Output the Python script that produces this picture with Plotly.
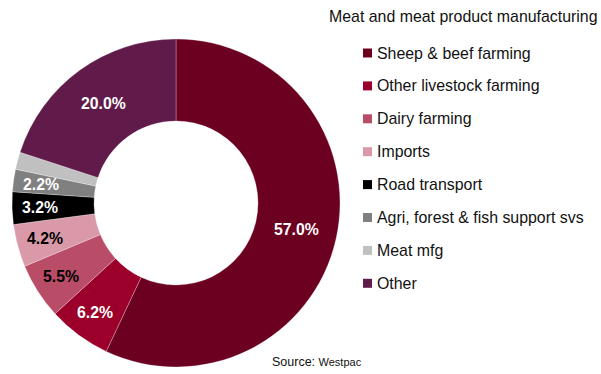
import math
import plotly.graph_objects as go

# Share of inputs to meat and meat product manufacturing (%)
categories = [
    "Sheep & beef farming",
    "Other livestock farming",
    "Dairy farming",
    "Imports",
    "Road transport",
    "Agri, forest & fish support svs",
    "Meat mfg",
    "Other",
]
shares = [57.0, 6.2, 5.5, 4.2, 3.2, 2.2, 1.7, 20.0]
colors = ["#6C0020", "#9C002A", "#B94C66", "#D999A8",
          "#000000", "#808080", "#C0C0C0", "#611B4A"]
label_colors = ["white", "white", "black", "black", "white", "white", "white", "white"]
chart_title = "Meat and meat product manufacturing"
source_name = "Westpac"

W, H = 601, 374
FONT = "Liberation Sans, Arial, sans-serif"

# donut geometry in pixels
cx, cy, R = 176, 203, 164
hole = 0.5

fig = go.Figure()
fig.add_trace(go.Pie(
    labels=categories,
    values=shares,
    sort=False,
    direction="clockwise",
    rotation=0,
    hole=hole,
    marker=dict(colors=colors, line=dict(color="rgba(255,255,255,0.45)", width=0.6)),
    textinfo="none",
    hoverinfo="label+value",
    showlegend=False,
    domain=dict(x=[(cx - R) / W, (cx + R) / W],
                y=[(H - cy - R) / H, (H - cy + R) / H]),
))

annotations = []
shapes = []

# percentage labels placed at each slice's mid-angle
total = sum(shares)
cum = 0.0
for val, col in zip(shares, label_colors):
    mid = (cum + val / 2) / total * 2 * math.pi
    cum += val
    if val < 2:
        continue
    frac = 0.75 if val >= 10 else 0.83
    r = R * frac
    px = cx + r * math.sin(mid)
    py = cy - r * math.cos(mid)
    annotations.append(dict(
        x=px / W, y=(H - py) / H, xref="paper", yref="paper",
        text=f"<b>{val:.1f}%</b>", showarrow=False,
        xanchor="center", yanchor="middle",
        font=dict(family=FONT, size=15.8, color=col),
    ))

# legend title
annotations.append(dict(
    x=327 / W, y=(H - 17) / H, xref="paper", yref="paper",
    text=chart_title, showarrow=False, xanchor="left", yanchor="middle",
    font=dict(family=FONT, size=15.9, color="#111111"),
))

# legend entries
leg_x0, leg_y0, leg_dy, sq = 363, 53, 32.9, 9
for i, (name, col) in enumerate(zip(categories, colors)):
    yc = leg_y0 + i * leg_dy
    shapes.append(dict(
        type="rect", xref="paper", yref="paper",
        x0=leg_x0 / W, x1=(leg_x0 + sq) / W,
        y0=(H - yc - sq / 2) / H, y1=(H - yc + sq / 2) / H,
        fillcolor=col, line=dict(width=0),
    ))
    annotations.append(dict(
        x=(leg_x0 + sq + 3) / W, y=(H - yc) / H, xref="paper", yref="paper",
        text=name, showarrow=False, xanchor="left", yanchor="middle",
        font=dict(family=FONT, size=15.9, color="#111111"),
    ))

# source note
annotations.append(dict(
    x=270 / W, y=(H - 362) / H, xref="paper", yref="paper",
    text=f"Source: <span style='font-size:11px'>{source_name}</span>",
    showarrow=False, xanchor="left", yanchor="middle",
    font=dict(family=FONT, size=12.5, color="#111111"),
))

fig.update_layout(
    width=W, height=H,
    margin=dict(l=0, r=0, t=0, b=0),
    paper_bgcolor="white", plot_bgcolor="white",
    annotations=annotations, shapes=shapes,
)

fig.write_html("out.html")
